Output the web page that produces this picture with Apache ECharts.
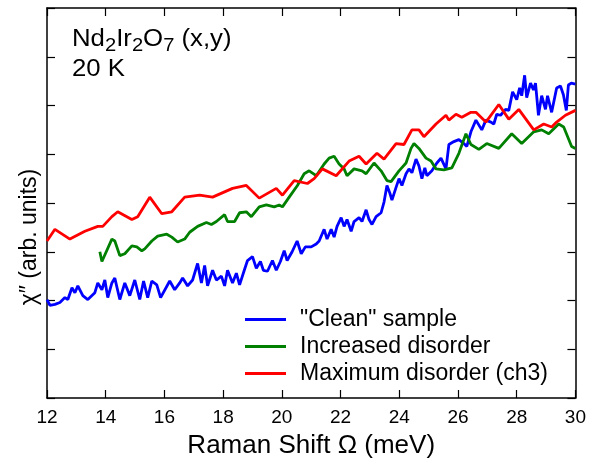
<!DOCTYPE html>
<html>
<head>
<meta charset="utf-8">
<script src="https://cdn.jsdelivr.net/npm/echarts@6/dist/echarts.min.js"></script>
<style>
    html, body { margin: 0; padding: 0; background: #fff; }
    #ramanChart { width: 589px; height: 464px; }
</style>
</head>
<body>
<div id="ramanChart"></div>
<script>
// 数据: [Raman shift (meV), chi'' (arb. units)]
var xTicks = [12, 14, 16, 18, 20, 22, 24, 26, 28, 30];
var seriesNames = ['"Clean" sample', 'Increased disorder', 'Maximum disorder (ch3)'];

var cleanData = [
    [12.00, 2.02], [12.10, 1.90], [12.27, 1.92], [12.44, 1.96], [12.61, 2.06], [12.71, 2.02],
    [12.85, 2.26], [12.95, 2.16], [13.05, 2.30], [13.22, 2.10], [13.39, 2.02], [13.63, 2.16],
    [13.73, 2.36], [13.87, 2.22], [13.97, 2.42], [14.07, 2.06], [14.21, 2.36], [14.31, 2.46],
    [14.48, 2.02], [14.65, 2.36], [14.82, 2.10], [14.99, 2.42], [15.16, 2.02], [15.29, 2.40],
    [15.43, 2.06], [15.57, 2.40], [15.74, 2.32], [15.87, 2.06], [16.18, 2.40], [16.35, 2.22],
    [16.52, 2.36], [16.62, 2.46], [16.79, 2.30], [16.96, 2.42], [17.13, 2.76], [17.26, 2.36],
    [17.37, 2.72], [17.47, 2.30], [17.64, 2.62], [17.77, 2.42], [17.94, 2.50], [18.05, 2.30],
    [18.15, 2.62], [18.32, 2.36], [18.45, 2.56], [18.56, 2.32], [18.72, 2.62], [18.83, 2.82],
    [19.00, 2.90], [19.13, 2.66], [19.27, 2.80], [19.37, 2.62], [19.51, 2.60], [19.68, 2.82],
    [19.81, 2.62], [19.95, 2.80], [20.08, 3.02], [20.18, 2.82], [20.35, 3.00], [20.52, 3.22],
    [20.66, 2.96], [20.80, 3.10], [21.00, 3.10], [21.17, 3.16], [21.27, 3.22], [21.44, 3.46],
    [21.54, 3.26], [21.68, 3.46], [21.78, 3.30], [21.88, 3.52], [22.02, 3.70], [22.12, 3.52],
    [22.22, 3.66], [22.36, 3.42], [22.46, 3.62], [22.63, 3.70], [22.73, 3.62], [22.87, 3.86],
    [22.97, 3.66], [23.07, 3.56], [23.21, 3.72], [23.38, 3.80], [23.48, 4.02], [23.58, 4.36],
    [23.68, 4.20], [23.75, 4.06], [23.89, 4.32], [23.99, 4.50], [24.09, 4.36], [24.23, 4.60],
    [24.33, 4.70], [24.43, 4.62], [24.57, 4.90], [24.67, 4.76], [24.77, 4.50], [24.87, 4.72],
    [24.94, 4.56], [25.11, 4.66], [25.28, 4.82], [25.42, 4.92], [25.59, 4.70], [25.69, 5.20],
    [25.86, 5.26], [26.03, 5.30], [26.20, 5.22], [26.30, 5.16], [26.44, 5.46], [26.61, 5.70],
    [26.81, 5.50], [26.95, 5.70], [27.12, 5.66], [27.22, 5.62], [27.32, 5.82], [27.45, 5.80],
    [27.62, 5.92], [27.73, 5.90], [27.86, 6.28], [28.00, 6.12], [28.10, 6.36], [28.17, 6.20],
    [28.27, 6.62], [28.34, 6.16], [28.47, 6.46], [28.57, 6.32], [28.64, 6.46], [28.74, 5.80],
    [28.85, 6.20], [28.98, 5.92], [29.05, 6.20], [29.19, 5.86], [29.36, 6.36], [29.49, 6.40],
    [29.59, 6.22], [29.69, 5.90], [29.76, 6.42], [29.86, 6.46], [30.00, 6.44]
];

var increasedData = [
    [13.80, 3.00], [13.87, 2.80], [14.21, 3.26], [14.31, 3.22], [14.48, 2.92], [14.65, 2.96],
    [14.89, 3.12], [15.06, 3.10], [15.23, 3.02], [15.33, 3.06], [15.57, 3.22], [15.77, 3.32],
    [16.08, 3.36], [16.25, 3.30], [16.45, 3.20], [16.69, 3.26], [16.86, 3.40], [17.13, 3.52],
    [17.43, 3.60], [17.60, 3.56], [17.77, 3.62], [18.05, 3.76], [18.15, 3.62], [18.39, 3.62],
    [18.56, 3.80], [18.79, 3.82], [18.96, 3.72], [19.23, 3.92], [19.47, 3.96], [19.74, 3.92],
    [19.91, 3.96], [20.02, 3.92], [20.25, 4.12], [20.53, 4.36], [20.76, 4.60], [20.93, 4.66],
    [21.17, 4.56], [21.44, 4.80], [21.61, 4.92], [21.78, 4.96], [21.95, 4.80], [22.12, 4.70],
    [22.22, 4.56], [22.46, 4.70], [22.73, 4.66], [22.87, 4.60], [23.14, 4.82], [23.38, 4.66],
    [23.58, 4.46], [23.72, 4.44], [23.99, 4.66], [24.23, 4.82], [24.40, 5.12], [24.50, 5.22],
    [24.67, 5.12], [24.91, 4.92], [25.08, 4.86], [25.25, 4.70], [25.52, 4.68], [25.79, 4.72],
    [26.03, 5.02], [26.27, 5.42], [26.44, 5.20], [26.71, 5.10], [26.98, 5.22], [27.39, 5.12],
    [27.83, 5.42], [28.17, 5.22], [28.58, 5.46], [28.85, 5.50], [29.09, 5.42], [29.43, 5.62],
    [29.60, 5.56], [29.87, 5.16], [30.00, 5.12]
];

var maximumData = [
    [12.00, 3.22], [12.27, 3.46], [12.78, 3.26], [13.29, 3.42], [13.73, 3.52], [13.90, 3.52],
    [14.21, 3.72], [14.41, 3.82], [14.89, 3.66], [15.09, 3.72], [15.50, 4.12], [15.91, 3.78],
    [16.25, 3.82], [16.69, 4.12], [17.20, 4.16], [17.64, 4.12], [18.32, 4.30], [18.79, 4.36],
    [19.23, 4.10], [19.81, 4.30], [20.02, 4.16], [20.42, 4.46], [20.87, 4.40], [21.10, 4.50],
    [21.38, 4.70], [21.85, 4.56], [22.29, 4.86], [22.63, 4.96], [22.87, 4.80], [23.24, 5.02],
    [23.48, 4.90], [23.89, 5.22], [24.16, 5.20], [24.43, 5.50], [24.67, 5.50], [24.84, 5.36],
    [25.25, 5.62], [25.59, 5.80], [25.69, 5.70], [25.93, 5.82], [26.13, 5.76], [26.44, 5.86],
    [26.61, 5.86], [26.95, 5.66], [27.39, 6.02], [27.73, 5.72], [28.07, 5.92], [28.58, 5.50],
    [28.92, 5.62], [29.19, 5.56], [29.36, 5.66], [29.66, 5.80], [30.00, 5.90]
];

var seriesData = [cleanData, increasedData, maximumData];
var seriesColors = ['#0000ff', '#008000', '#ff0000'];

// 左上角标注: 正常字 / 下标
var sampleLabel = [['Nd', 0], ['2', 1], ['Ir', 0], ['2', 1], ['O', 0], ['7', 1], [' (x,y)', 0]];
var tempLabel = '20 K';

setRamanChart();

function textWidth(str, size) {
    var ctx = document.createElement('canvas').getContext('2d');
    ctx.font = size + 'px "Liberation Sans"';
    return ctx.measureText(str).width;
}

function buildAnnotation(font) {
    var children = [];
    var x = 0;
    sampleLabel.forEach(function(part) {
        var sub = part[1] === 1;
        var size = sub ? 18 : 23;
        children.push({
            type: 'text',
            x: x,
            y: sub ? 46.5 : 39.5,
            style: { text: part[0], fontFamily: font, fontSize: size, fill: '#000', verticalAlign: 'middle', align: 'left' }
        });
        x += textWidth(part[0], size);
    });
    children.push({
        type: 'text',
        x: 0,
        y: 70,
        style: { text: tempLabel, fontFamily: font, fontSize: 23, fill: '#000', verticalAlign: 'middle', align: 'left' }
    });
    return [{ type: 'group', x: 72, y: 0, scaleX: 1.12, children: children }];
}

function setRamanChart() {
    var font = 'Liberation Sans, Arial, sans-serif';
    var frame = { show: true, onZero: false, lineStyle: { color: '#000', width: 1.5 } };
    var tickIn = { show: true, inside: true, length: 8, lineStyle: { color: '#000', width: 1.2 } };

    var xBase = {
        type: 'value',
        min: xTicks[0],
        max: xTicks[xTicks.length - 1],
        interval: xTicks[1] - xTicks[0],
        axisLine: frame,
        axisTick: tickIn,
        splitLine: { show: false }
    };
    var yBase = {
        type: 'value',
        min: 0,
        max: 8,
        interval: 1,
        axisLine: frame,
        axisTick: tickIn,
        axisLabel: { show: false },
        splitLine: { show: false }
    };

    var series = seriesNames.map(function(name, i) {
        return {
            name: name,
            type: 'line',
            data: seriesData[i],
            showSymbol: false,
            symbol: 'none',
            clip: true,
            lineStyle: { color: seriesColors[i], width: 2.8 },
            itemStyle: { color: seriesColors[i] }
        };
    });

    var option = {
        animation: false,
        backgroundColor: '#fff',
        textStyle: { fontFamily: font },
        grid: { left: 47, right: 12, top: 8, bottom: 56 },
        graphic: buildAnnotation(font),
        legend: {
            orient: 'vertical',
            left: 240,
            top: 301,
            itemGap: 0,
            itemWidth: 41,
            itemHeight: 3,
            icon: 'rect',
            data: seriesNames,
            textStyle: { fontFamily: font, fontSize: 23, color: '#000', lineHeight: 27, padding: [0, 0, 0, 9] }
        },
        xAxis: [
            Object.assign({}, xBase, {
                position: 'bottom',
                name: 'Raman Shift Ω (meV)',
                nameLocation: 'middle',
                nameGap: 35,
                nameTextStyle: { fontFamily: font, fontSize: 26, color: '#000' },
                axisLabel: { show: true, margin: 10, color: '#000', fontFamily: font, fontSize: 19 }
            }),
            Object.assign({}, xBase, {
                position: 'top',
                axisLabel: { show: false }
            })
        ],
        yAxis: [
            Object.assign({}, yBase, {
                position: 'left',
                name: 'χ\u2033 (arb. units)',
                nameLocation: 'middle',
                nameGap: 6,
                nameTextStyle: { fontFamily: font, fontSize: 23, color: '#000', padding: [0, 68, 0, 0] }
            }),
            Object.assign({}, yBase, { position: 'right' })
        ],
        series: series
    };

    var myChart = echarts.init(document.getElementById('ramanChart'));
    myChart.setOption(option);
}
</script>
</body>
</html>
